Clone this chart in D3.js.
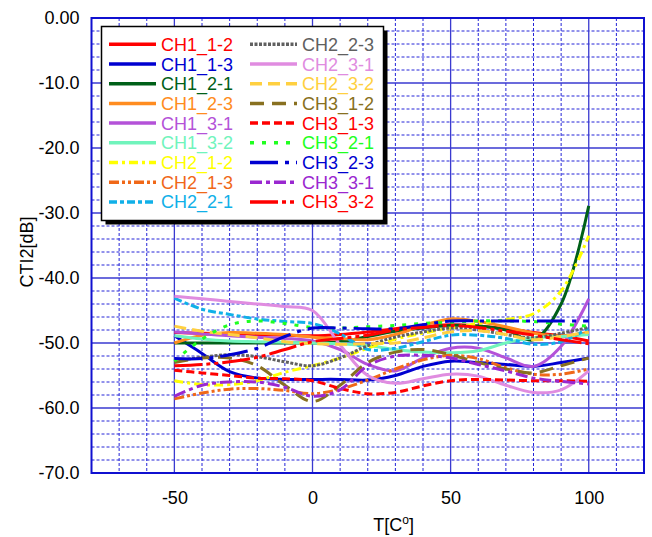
<!DOCTYPE html>
<html><head><meta charset="utf-8">
<script src="https://cdn.jsdelivr.net/npm/d3@7"></script>
<style>body{margin:0;background:#fff}svg{display:block}text{font-family:"Liberation Sans",Arial,sans-serif}</style>
</head><body><svg id="c" width="652" height="537"></svg>
<script>
const temps = [-50,-40,-30,-20,-10,0,10,20,30,40,50,60,70,80,90,100];
const CH1_1_2 = [-48.4,-48.5,-48.6,-48.7,-48.8,-48.9,-48.7,-48.3,-47.8,-47.5,-47.2,-47.4,-47.8,-48.4,-48.9,-49.7];
const CH1_1_3 = [-48.9,-51.6,-54.4,-55.4,-55.6,-55.6,-55.6,-55.7,-55.0,-53.6,-52.8,-53.0,-53.3,-53.6,-53.0,-52.3];
const CH1_2_1 = [-50.0,-50.0,-50.0,-50.0,-50.0,-50.0,-49.8,-49.0,-48.2,-47.7,-47.3,-47.4,-48.0,-49.5,-44.0,-28.9];
const CH1_2_3 = [-50.0,-48.8,-48.4,-48.5,-48.7,-49.1,-49.3,-49.5,-48.7,-47.3,-46.3,-46.7,-47.5,-48.5,-48.9,-48.4];
const CH1_3_1 = [-48.3,-48.6,-48.9,-49.1,-49.3,-49.7,-51.0,-53.3,-54.3,-52.3,-50.8,-50.8,-52.3,-53.6,-50.5,-43.2];
const CH1_3_2 = [-48.9,-49.4,-49.7,-49.8,-49.9,-50.0,-50.1,-50.4,-51.0,-51.4,-51.5,-51.2,-50.0,-49.2,-49.0,-48.7];
const CH2_1_2 = [-55.8,-56.4,-56.4,-55.8,-54.5,-53.5,-52.3,-50.8,-49.4,-48.5,-47.7,-47.0,-46.4,-45.5,-42.0,-33.5];
const CH2_1_3 = [-58.6,-57.7,-57.1,-57.0,-57.3,-57.8,-57.1,-55.7,-54.0,-52.6,-51.9,-52.4,-53.8,-54.8,-54.8,-54.0];
const CH2_2_1 = [-43.1,-44.8,-45.6,-46.3,-46.7,-47.0,-48.6,-51.0,-50.8,-49.8,-48.8,-48.8,-49.3,-50.2,-49.8,-47.7];
const CH2_2_3 = [-52.8,-52.2,-51.8,-52.1,-52.9,-53.5,-52.3,-50.4,-49.1,-48.3,-47.7,-48.0,-48.7,-49.2,-48.5,-47.6];
const CH2_3_1 = [-42.8,-43.2,-43.6,-44.0,-44.4,-45.0,-50.3,-55.0,-56.2,-55.5,-54.8,-55.1,-56.5,-57.6,-57.2,-54.3];
const CH2_3_2 = [-47.4,-48.2,-48.7,-49.2,-49.8,-50.1,-50.2,-50.1,-50.0,-49.2,-48.3,-48.1,-48.7,-49.5,-49.0,-48.3];
const CH3_1_2 = [-53.0,-52.3,-52.3,-53.5,-56.5,-59.0,-56.5,-53.0,-51.4,-51.0,-51.8,-53.0,-54.0,-54.6,-53.5,-52.3];
const CH3_1_3 = [-54.2,-54.6,-55.0,-55.4,-55.5,-55.8,-57.0,-57.8,-57.6,-56.6,-55.8,-55.6,-55.7,-55.8,-55.8,-55.9];
const CH3_2_1 = [-52.8,-49.4,-47.2,-46.6,-47.0,-47.6,-47.7,-47.5,-47.3,-47.0,-46.8,-46.6,-46.6,-46.7,-47.1,-47.4];
const CH3_2_3 = [-52.4,-52.4,-51.8,-50.8,-49.0,-47.7,-47.7,-47.8,-47.8,-47.2,-46.6,-46.6,-46.6,-46.6,-46.6,-46.6];
const CH3_3_1 = [-58.2,-56.5,-56.0,-56.0,-56.8,-58.2,-57.2,-53.5,-52.0,-51.9,-52.3,-53.3,-54.3,-55.4,-55.9,-56.3];
const CH3_3_2 = [-53.5,-53.3,-52.9,-52.2,-51.0,-49.8,-49.3,-48.8,-48.0,-47.6,-47.3,-47.6,-48.2,-48.8,-49.5,-50.1];

const seriesNames = ["CH1_1-2","CH1_1-3","CH1_2-1","CH1_2-3","CH1_3-1","CH1_3-2","CH2_1-2","CH2_1-3","CH2_2-1",
  "CH2_2-3","CH2_3-1","CH2_3-2","CH3_1-2","CH3_1-3","CH3_2-1","CH3_2-3","CH3_3-1","CH3_3-2"];
const seriesValues = [CH1_1_2,CH1_1_3,CH1_2_1,CH1_2_3,CH1_3_1,CH1_3_2,CH2_1_2,CH2_1_3,CH2_2_1,
  CH2_2_3,CH2_3_1,CH2_3_2,CH3_1_2,CH3_1_3,CH3_2_1,CH3_2_3,CH3_3_1,CH3_3_2];
const xTicks = [-50,0,50,100];
const yTicks = [0,-10,-20,-30,-40,-50,-60,-70];

// styles
const colors = ["#ff0000","#0000d0","#006018","#ff8c20","#b452d8","#70f4bc","#ffff00","#f06818","#10b0e8",
  "#606060","#e08ce0","#ffd040","#887020","#ff0000","#20ff20","#0000d0","#9a28d0","#ff0000"];
const dashes = [null,null,null,null,null,null,"9,4,3,4","10,3,3,3,3,3","8,3,4,3",
  "3,1.5",null,"12,6","14,8","8,4","4,8","28,7,4,7","12,4,4,4","28,4,4,4,4,4"];

const svg = d3.select("#c");
const L = 91.5, R = 644, T = 18, B = 473;
const x = d3.scaleLinear().domain([-80,120]).range([L,R]);
const y = d3.scaleLinear().domain([-70,0]).range([B,T]);
const hy = s => s.replace(/\u2212/g,"-");

const grid = svg.append("g");
grid.selectAll("line.vx").data(d3.range(-70,120,10).filter(v=>v%50!==0)).join("line")
  .attr("x1",d=>x(d)).attr("x2",d=>x(d)).attr("y1",T).attr("y2",B)
  .attr("stroke","#2424d8").attr("stroke-width",1).attr("stroke-dasharray","3,2");
grid.selectAll("line.hy").data(d3.range(-68,0,2).filter(v=>v%10!==0)).join("line")
  .attr("y1",d=>y(d)).attr("y2",d=>y(d)).attr("x1",L).attr("x2",R)
  .attr("stroke","#2424d8").attr("stroke-width",1).attr("stroke-dasharray","3,2");
grid.selectAll("line.mx").data(xTicks).join("line")
  .attr("x1",d=>x(d)).attr("x2",d=>x(d)).attr("y1",T).attr("y2",B)
  .attr("stroke","#3a3ad0").attr("stroke-width",1.3);
grid.selectAll("line.my").data(yTicks.slice(1,-1)).join("line")
  .attr("y1",d=>y(d)).attr("y2",d=>y(d)).attr("x1",L).attr("x2",R)
  .attr("stroke","#3a3ad0").attr("stroke-width",1.3);
svg.append("rect").attr("x",L).attr("y",T).attr("width",R-L).attr("height",B-T)
  .attr("fill","none").attr("stroke","#1010d0").attr("stroke-width",2);

const yAxis = d3.axisLeft(y).tickValues(yTicks).tickSize(0).tickPadding(12)
  .tickFormat(d=> d===0 ? "0.00" : hy(d3.format(".1f")(d)));
const gy = svg.append("g").attr("transform",`translate(${L},0)`).call(yAxis);
gy.select(".domain").remove();
gy.selectAll("text").attr("font-size",18).attr("fill","#000").attr("font-family","Liberation Sans, Arial, sans-serif");
const xAxis = d3.axisBottom(x).tickValues(xTicks).tickSize(0).tickPadding(18).tickFormat(d=>hy(d3.format("d")(d)));
const gx = svg.append("g").attr("transform",`translate(0,${B})`).call(xAxis);
gx.select(".domain").remove();
gx.selectAll("text").attr("font-size",18).attr("fill","#000").attr("font-family","Liberation Sans, Arial, sans-serif");

const xt = svg.append("text").attr("x",(x(0)+x(50))/2+12).attr("y",531).attr("text-anchor","middle").attr("font-size",18);
xt.append("tspan").text("T[C");
xt.append("tspan").attr("font-size",12).attr("dy",-7).text("o");
xt.append("tspan").attr("dy",7).text("]");
svg.append("text").attr("transform","translate(33,252) rotate(-90)").attr("text-anchor","middle")
  .attr("font-size",18).text("CTI2[dB]");

svg.append("clipPath").attr("id","pc").append("rect")
  .attr("x",L).attr("y",T).attr("width",R-L).attr("height",B-T);
const line = d3.line().x((d,i)=>x(temps[i])).y(d=>y(d)).curve(d3.curveCatmullRom.alpha(0.5));
const lg = svg.append("g").attr("clip-path","url(#pc)");
seriesValues.forEach((vals,i)=>{
  lg.append("path").attr("d",line(vals)).attr("fill","none")
    .attr("stroke",colors[i]).attr("stroke-width",3)
    .attr("stroke-dasharray",dashes[i]).attr("stroke-linejoin","round");
});

const lgX = 101.5, lgY = 26.5, lgW = 282, lgH = 194;
svg.append("rect").attr("x",lgX+4).attr("y",lgY+4).attr("width",lgW).attr("height",lgH).attr("fill","#000");
svg.append("rect").attr("x",lgX).attr("y",lgY).attr("width",lgW).attr("height",lgH).attr("fill","#fff")
  .attr("stroke","#000").attr("stroke-width",1.5);
seriesNames.forEach((nm,i)=>{
  const col = Math.floor(i/9), row = i%9;
  const ly = 44.3 + row*19.7;
  const lx = col===0 ? 109 : 250;
  svg.append("line").attr("x1",lx).attr("x2",lx+47).attr("y1",ly).attr("y2",ly)
    .attr("stroke",colors[i]).attr("stroke-width",3.5).attr("stroke-dasharray",dashes[i]);
  svg.append("text").attr("x",lx+52).attr("y",ly+6.5).attr("font-size",18).attr("fill",colors[i]).text(nm);
});
</script></body></html>
